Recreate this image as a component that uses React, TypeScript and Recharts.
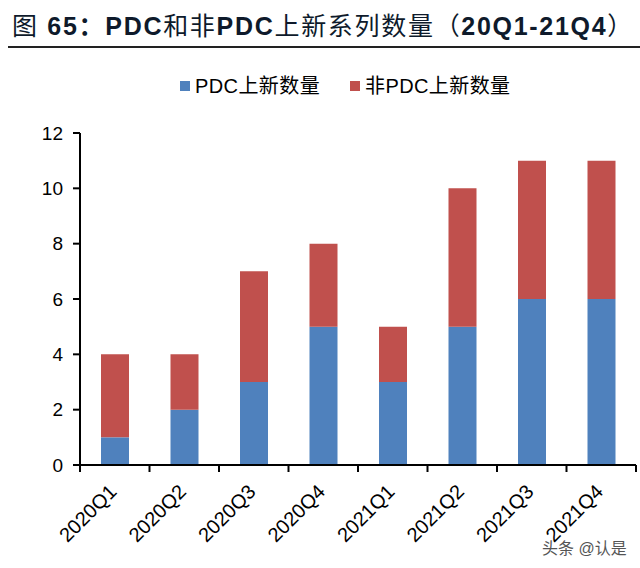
import React from "react";
import { BarChart, Bar, XAxis, YAxis } from "recharts";

const quarters = ["2020Q1", "2020Q2", "2020Q3", "2020Q4", "2021Q1", "2021Q2", "2021Q3", "2021Q4"];
const pdcCounts = [1, 2, 3, 5, 3, 5, 6, 6];
const nonPdcCounts = [3, 2, 4, 3, 2, 5, 5, 5];
const yTicks = [0, 2, 4, 6, 8, 10, 12];

const seriesNames = { pdc: "PDC上新数量", nonPdc: "非PDC上新数量" };
const colors = { pdc: "#4f81bd", nonPdc: "#c0504d" };

const chartData = quarters.map((q, i) => ({
  q,
  pdc: pdcCounts[i],
  nonPdc: nonPdcCounts[i],
}));

const font = '"Liberation Sans", Arial, "Noto Sans CJK SC", sans-serif';

function QuarterTick(props: any) {
  const { x, y, payload, index, visibleTicksCount } = props;
  const half = (636 - 80) / quarters.length / 2;
  const last = index === (visibleTicksCount ?? quarters.length) - 1;
  return (
    <g>
      <line x1={x - half} x2={x - half} y1={y} y2={y + 7} stroke="#000" strokeWidth={2} />
      {last && <line x1={x + half} x2={x + half} y1={y} y2={y + 7} stroke="#000" strokeWidth={2} />}
      <text
        x={x + 3}
        y={y + 28}
        transform={`rotate(-45, ${x + 3}, ${y + 28})`}
        textAnchor="end"
        fontSize={20}
        fontFamily={font}
        fill="#000"
      >
        {payload.value}
      </text>
    </g>
  );
}

function LegendItem({ color, label }: { color: string; label: string }) {
  return (
    <span style={{ display: "inline-flex", alignItems: "center", marginRight: 30 }}>
      <span style={{ width: 10, height: 10, background: color, display: "inline-block", marginRight: 5 }} />
      <span>{label}</span>
    </span>
  );
}

export default function App() {
  return (
    <div
      style={{
        position: "absolute",
        left: 0,
        top: 0,
        width: 640,
        height: 568,
        background: "#fff",
        fontFamily: font,
      }}
    >
      <div
        style={{
          position: "absolute",
          left: 12,
          top: 10,
          fontSize: 25,
          color: "#0e1a2b",
          whiteSpace: "nowrap",
          letterSpacing: 1.7,
          lineHeight: "32px",
        }}
      >
        <span>图</span>
        <b> 65：PDC</b>
        <span>和非</span>
        <b>PDC</b>
        <span>上新系列数量（</span>
        <b>20Q1-21Q4</b>
        <span>）</span>
      </div>
      <div
        style={{
          position: "absolute",
          left: 8,
          top: 46,
          width: 632,
          height: 2,
          background: "#222",
        }}
      />
      <div
        style={{
          position: "absolute",
          left: 180,
          top: 71,
          fontSize: 20,
          color: "#000",
          whiteSpace: "nowrap",
          lineHeight: "26px",
          letterSpacing: 0.4,
        }}
      >
        <LegendItem color={colors.pdc} label={seriesNames.pdc} />
        <LegendItem color={colors.nonPdc} label={seriesNames.nonPdc} />
      </div>
      <div style={{ position: "absolute", left: 0, top: 0 }}>
        <BarChart
          width={640}
          height={568}
          data={chartData}
          margin={{ top: 133, right: 4, bottom: 0, left: 0 }}
          barSize={28}
        >
          <XAxis
            dataKey="q"
            stroke="#000"
            strokeWidth={2}
            tickSize={0}
            tickMargin={0}
            tick={<QuarterTick />}
            interval={0}
            height={103}
            tickLine={false}
          />
          <YAxis
            domain={[0, 12]}
            ticks={yTicks}
            width={80}
            stroke="#000"
            strokeWidth={2}
            tickSize={7}
            tickMargin={10}
            tick={{ fontSize: 19, fill: "#000", fontFamily: font }}
            interval={0}
          />
          <Bar dataKey="pdc" name={seriesNames.pdc} stackId="a" fill={colors.pdc} isAnimationActive={false} />
          <Bar dataKey="nonPdc" name={seriesNames.nonPdc} stackId="a" fill={colors.nonPdc} isAnimationActive={false} />
        </BarChart>
      </div>
      <div
        style={{
          position: "absolute",
          left: 542,
          top: 535,
          fontSize: 16,
          color: "#555",
          whiteSpace: "nowrap",
        }}
      >
        头条 @认是
      </div>
    </div>
  );
}
